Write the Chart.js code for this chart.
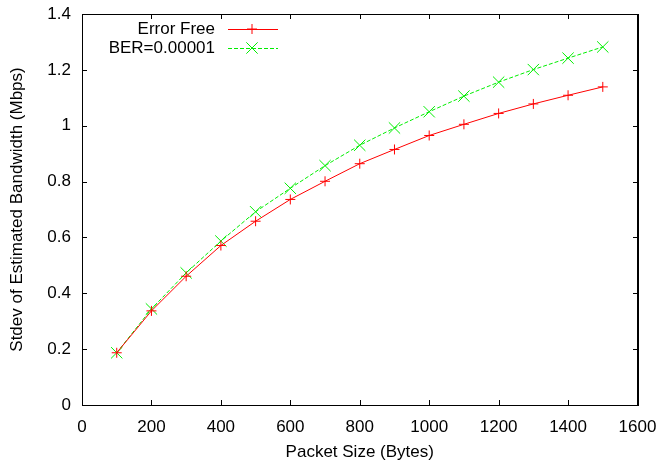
<!DOCTYPE html>
<html>
<head>
<meta charset="utf-8">
<script src="https://cdn.jsdelivr.net/npm/chart.js@4/dist/chart.umd.min.js"></script>
<style>
  html, body { margin: 0; padding: 0; background: #fff; }
  #wrap { width: 660px; height: 462px; }
</style>
</head>
<body>
<div id="wrap"><canvas id="chart" width="660" height="462"></canvas></div>
<script>
// packet sizes (bytes)
const packetSizes = [100, 200, 300, 400, 500, 600, 700, 800, 900, 1000, 1100, 1200, 1300, 1400, 1500];
// stdev of estimated bandwidth (Mbps)
const errorFree = [0.187, 0.337, 0.461, 0.571, 0.658, 0.736, 0.801, 0.864, 0.915, 0.965, 1.005, 1.044, 1.078, 1.109, 1.139];
const ber00001 = [0.187, 0.344, 0.473, 0.587, 0.692, 0.776, 0.857, 0.930, 0.992, 1.050, 1.106, 1.156, 1.201, 1.242, 1.282];
const seriesNames = ['Error Free', 'BER=0.00001'];
const xTicks = [0, 200, 400, 600, 800, 1000, 1200, 1400, 1600];
const yTicks = [0, 0.2, 0.4, 0.6, 0.8, 1, 1.2, 1.4];

const FONT = '"Liberation Sans", Arial, sans-serif';
const RED = '#ff0000';
const GREEN = '#00ee00';

// gnuplot style frame with inward ticks, and the key at top left
const gnuplotPlugin = {
  id: 'gnuplotFrame',
  afterDraw(chart) {
    const ctx = chart.ctx;
    const a = chart.chartArea;
    const xs = chart.scales.x, ys = chart.scales.y;
    const len = 5;
    const l = Math.round(a.left), t = Math.round(a.top);
    const w = Math.round(a.right - a.left), h = Math.round(a.bottom - a.top);
    ctx.save();
    ctx.setLineDash([]);
    ctx.strokeStyle = '#000000';
    ctx.lineWidth = 1;
    ctx.strokeRect(l + 0.5, t + 0.5, w, h);
    ctx.beginPath();
    xTicks.forEach(v => {
      const px = Math.round(xs.getPixelForValue(v)) + 0.5;
      ctx.moveTo(px, t + h); ctx.lineTo(px, t + h - len);
      ctx.moveTo(px, t); ctx.lineTo(px, t + len);
    });
    yTicks.forEach(v => {
      const py = Math.round(ys.getPixelForValue(v)) + 0.5;
      ctx.moveTo(l, py); ctx.lineTo(l + len, py);
      ctx.moveTo(l + w, py); ctx.lineTo(l + w - len, py);
    });
    ctx.stroke();
    ctx.restore();

    // key: label right aligned, then line sample with marker
    ctx.save();
    ctx.font = '17px ' + FONT;
    ctx.textAlign = 'right';
    ctx.textBaseline = 'middle';
    chart.data.datasets.forEach((ds, i) => {
      const y = 29 + i * 19;
      ctx.fillStyle = '#000000';
      ctx.fillText(ds.label, 215, y);
      ctx.strokeStyle = ds.borderColor;
      ctx.lineWidth = 1;
      ctx.setLineDash(ds.borderDash || []);
      ctx.beginPath();
      ctx.moveTo(228, y + 0.5); ctx.lineTo(278, y + 0.5);
      ctx.stroke();
      ctx.setLineDash([]);
      Chart.helpers.drawPoint(ctx, {pointStyle: ds.pointStyle, radius: ds.pointRadius, borderWidth: 1}, 252, y);
    });
    ctx.restore();
  }
};

// mirror axes only used for the top and right border lines
const mirrorAxis = (pos, min, max) => ({
  position: pos,
  min: min, max: max,
  grid: { display: false, drawTicks: false },
  border: { display: true, color: '#000000', width: 1 },
  ticks: { display: false },
  afterFit: s => {
    if (pos === 'top') s.height = 0; else s.width = 0;
    s.paddingTop = 0; s.paddingBottom = 0; s.paddingLeft = 0; s.paddingRight = 0;
  }
});

new Chart(document.getElementById('chart'), {
  type: 'line',
  data: {
    datasets: [
      {
        label: seriesNames[0],
        data: packetSizes.map((x, i) => ({x: x, y: errorFree[i]})),
        borderColor: RED,
        backgroundColor: RED,
        borderWidth: 1,
        pointStyle: 'cross',
        pointRadius: 5,
        pointBorderWidth: 1,
        pointBorderColor: RED,
        tension: 0
      },
      {
        label: seriesNames[1],
        data: packetSizes.map((x, i) => ({x: x, y: ber00001[i]})),
        borderColor: GREEN,
        backgroundColor: GREEN,
        borderWidth: 1,
        borderDash: [4, 2],
        pointStyle: 'crossRot',
        pointRadius: 8,
        pointBorderWidth: 1,
        pointBorderColor: GREEN,
        tension: 0
      }
    ]
  },
  options: {
    responsive: false,
    animation: false,
    devicePixelRatio: 1,
    layout: { padding: { top: 14, right: 22.5, bottom: 0, left: 0 } },
    plugins: { legend: { display: false }, tooltip: { enabled: false } },
    scales: {
      x: {
        type: 'linear',
        position: 'bottom',
        min: 0, max: 1600,
        grid: { display: false, drawTicks: false },
        border: { display: true, color: '#000000', width: 1 },
        afterFit: s => { s.height = 57; s.paddingLeft = 0; s.paddingRight = 0; },
        afterBuildTicks: s => { s.ticks = xTicks.map(v => ({value: v})); },
        ticks: { color: '#000', font: { family: FONT, size: 17 }, padding: 12, maxRotation: 0,
                 callback: v => String(v) },
        title: { display: true, text: 'Packet Size (Bytes)', color: '#000',
                 font: { family: FONT, size: 17, lineHeight: 1 }, padding: { top: 0, bottom: 1 } }
      },
      y: {
        position: 'left',
        min: 0, max: 1.4,
        grid: { display: false, drawTicks: false },
        border: { display: true, color: '#000000', width: 1 },
        afterFit: s => { s.width = 82; s.paddingTop = 0; s.paddingBottom = 0; },
        afterBuildTicks: s => { s.ticks = yTicks.map(v => ({value: v})); },
        ticks: { color: '#000', font: { family: FONT, size: 17 }, padding: 11,
                 callback: v => String(Number(v.toFixed(1))) },
        title: { display: true, text: 'Stdev of Estimated Bandwidth (Mbps)', color: '#000',
                 font: { family: FONT, size: 17, lineHeight: 1 }, padding: { top: 9, bottom: 0 } }
      },
      x2: Object.assign({ type: 'linear' }, mirrorAxis('top', 0, 1600)),
      y2: Object.assign({ type: 'linear' }, mirrorAxis('right', 0, 1.4))
    }
  },
  plugins: [gnuplotPlugin]
});
</script>
</body>
</html>
